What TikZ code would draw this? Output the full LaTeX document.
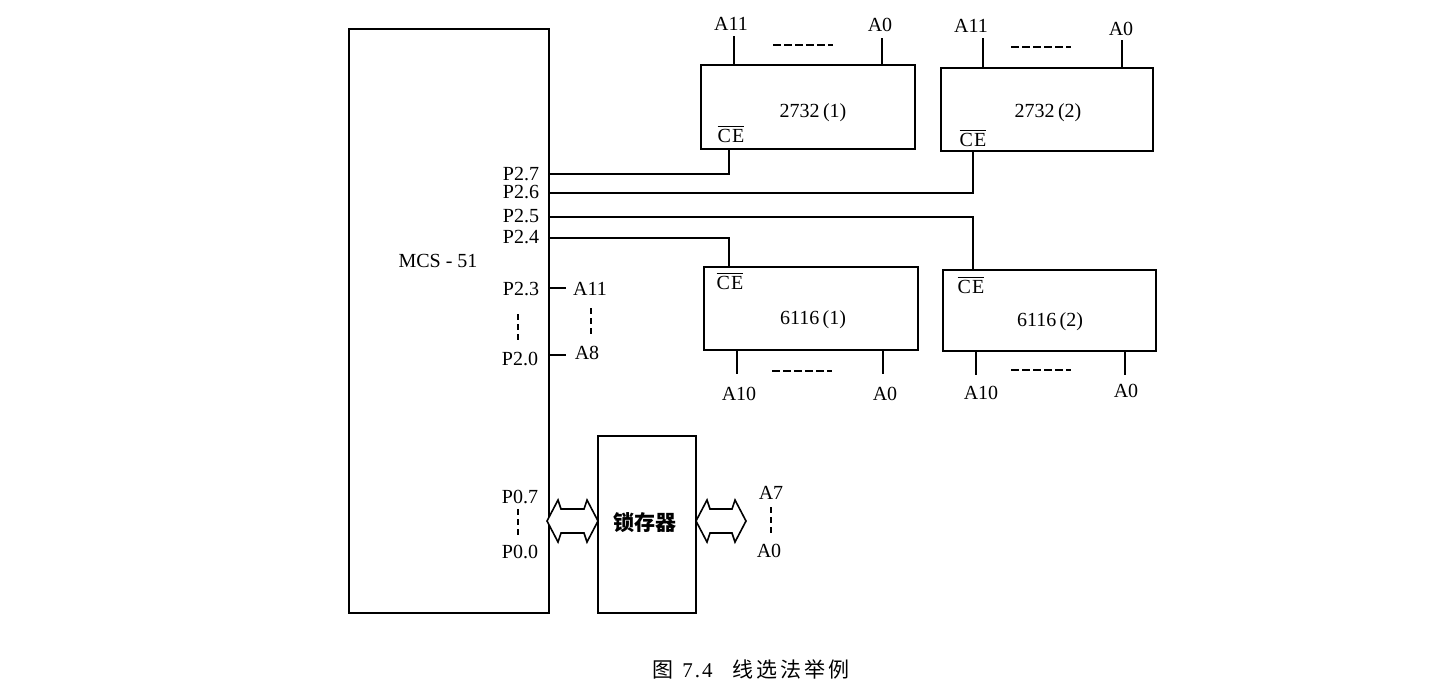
\documentclass[tikz,border=0pt]{standalone}
\usepackage{fontspec}
\setmainfont{Liberation Serif}
\newfontfamily\cjk{Noto Sans CJK SC}
\usetikzlibrary{calc}
\tikzset{
  every node/.style={font=\fontsize{20}{22}\selectfont},
  unit/.style={draw,line width=1.6pt,rectangle,inner sep=0pt,outer sep=0pt,anchor=north west},
  wire/.style={line width=1.3pt},
  pinline/.style={line width=1.1pt},
  gap/.style={line width=1.1pt,dash pattern=on 8pt off 3pt},
  vgap/.style={line width=1.1pt,dash pattern=on 6pt off 4pt},
  lab/.style={inner sep=0pt,anchor=center,text height=13pt,text depth=0pt},
  bus/.style={line width=1.6pt,line join=miter,fill=white}
}
\newcommand{\unitbox}[5]{%
  \node[unit,minimum width=#4pt-#2pt,minimum height=#5pt-#3pt] (#1) at (#2,#3) {};
}
\newcommand{\cebar}{$\overline{\rule{0pt}{15pt}\mbox{C\kern1ptE}}$}
% a bus arrow with two heads, running from x=#2 to x=#3 around the height #4
\newcommand{\busarrow}[4]{%
  \draw[bus] (#2,#4) -- ++(11,-21) -- ++(3,9) -- (#3-14,#4-12) -- ++(3,-9) -- (#3,#4)
     -- (#3-11,#4+21) -- ++(-3,-9) -- (#2+14,#4+12) -- ++(-3,9) -- cycle;
  \coordinate (#1) at (#2,#4);
}
\begin{document}
\begin{tikzpicture}[x=1pt,y=-1pt]
\useasboundingbox (0,0) rectangle (1437,689);
\fill[white] (0,0) rectangle (1437,689);

% chips and the controller
\unitbox{mcu}{349}{29}{549}{613}
\node[lab] (mcul) at (438,261) {MCS\kern5pt-\kern5pt51};
\unitbox{romA}{701}{65}{915}{149}
\node[lab] (romAl) at (813,111) {2732\,(1)};
\unitbox{romB}{941}{68}{1153}{151}
\node[lab] (romBl) at (1048,111) {2732\,(2)};
\unitbox{ramA}{704}{267}{918}{350}
\node[lab] (ramAl) at (813,318) {6116\,(1)};
\unitbox{ramB}{943}{270}{1156}{351}
\node[lab] (ramBl) at (1050,320) {6116\,(2)};
\unitbox{latch}{598}{436}{696}{613}
\node[lab,font=\cjk\fontsize{21}{23}\selectfont\bfseries] (latchl) at (645,524) {锁存器};

% chip enable labels
\node[lab] (ceA) at (731,136) {\cebar};
\node[lab] (ceB) at (973,140) {\cebar};
\node[lab] (ceC) at (730,283) {\cebar};
\node[lab] (ceD) at (971,287) {\cebar};

% port labels
\node[lab] (p27) at (521,174) {P2.7};
\node[lab] (p26) at (521,192) {P2.6};
\node[lab] (p25) at (521,216) {P2.5};
\node[lab] (p24) at (521,237) {P2.4};
\node[lab] (p23) at (521,289) {P2.3};
\node[lab] (p20) at (520,359) {P2.0};
\node[lab] (p07) at (520,497) {P0.7};
\node[lab] (p00) at (520,552) {P0.0};

% chip select wires
\coordinate (w7) at (549,174);
\coordinate (w6) at (549,193);
\coordinate (w5) at (549,217);
\coordinate (w4) at (549,238);
\coordinate (romApin) at (729,149);
\coordinate (romBpin) at (973,151);
\coordinate (ramApin) at (729,267);
\coordinate (ramBpin) at (973,270);
\draw[wire] (w7) -| (romApin);
\draw[wire] (w6) -| (romBpin);
\draw[wire] (w5) -| (ramBpin);
\draw[wire] (w4) -| (ramApin);

% high address lines
\node[lab] (a11) at (590,289) {A11};
\node[lab] (a8)  at (587,353) {A8};
\coordinate (p23pin) at (549,288);
\coordinate (p20pin) at (549,355);
\coordinate (a11pin) at (566,288);
\coordinate (a8pin) at (566,355);
\draw[pinline] (p23pin) -- (a11pin);
\draw[pinline] (p20pin) -- (a8pin);
\draw[vgap] (591,308) -- (591,336);
\draw[vgap] (518,314) -- (518,341);
\draw[vgap] (518,509) -- (518,537);
\draw[vgap] (771,507) -- (771,536);

% address pins of the top row
\node[lab] (t1) at (731,24) {A11};
\node[lab] (t2) at (880,25) {A0};
\node[lab] (t3) at (971,26) {A11};
\node[lab] (t4) at (1121,29) {A0};
\draw[pinline] (734,36) -- (734,65);
\draw[pinline] (882,38) -- (882,65);
\draw[pinline] (983,38) -- (983,68);
\draw[pinline] (1122,40) -- (1122,68);
\draw[gap] (773,45) -- (833,45);
\draw[gap] (1011,47) -- (1071,47);

% address pins of the bottom row
\node[lab] (b1) at (739,394) {A10};
\node[lab] (b2) at (885,394) {A0};
\node[lab] (b3) at (981,393) {A10};
\node[lab] (b4) at (1126,391) {A0};
\draw[pinline] (737,350) -- (737,374);
\draw[pinline] (883,350) -- (883,374);
\draw[pinline] (976,351) -- (976,375);
\draw[pinline] (1125,351) -- (1125,375);
\draw[gap] (772,371) -- (832,371);
\draw[gap] (1011,370) -- (1071,370);

% buses around the latch
\busarrow{busL}{547}{598}{521}
\busarrow{busR}{696}{746}{521}
\node[lab] (a7) at (771,493) {A7};
\node[lab] (a0) at (769,551) {A0};

% caption
\node[lab,font=\cjk\fontsize{21}{23}\selectfont] (cap) at (751,671) {图\hspace{9pt}{\fontspec{Liberation Serif}\addfontfeature{LetterSpace=10}7.4}\hspace{20pt}线\kern3pt 选\kern3pt 法\kern3pt 举\kern3pt 例};
\end{tikzpicture}
\end{document}
